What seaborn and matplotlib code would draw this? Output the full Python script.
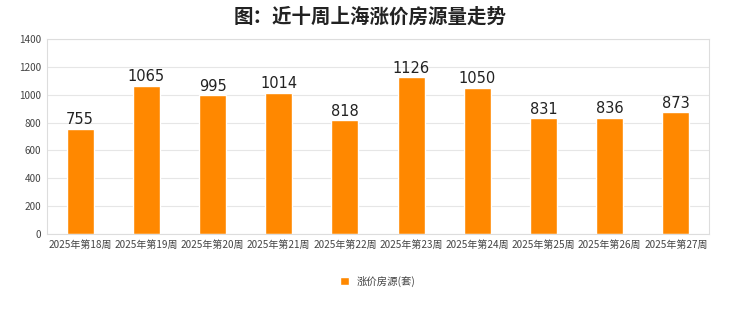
import matplotlib
matplotlib.use("Agg")
import matplotlib.pyplot as plt
import seaborn as sns
import pandas as pd

weeks = ["2025年第18周", "2025年第19周", "2025年第20周", "2025年第21周", "2025年第22周",
         "2025年第23周", "2025年第24周", "2025年第25周", "2025年第26周", "2025年第27周"]
values = [755, 1065, 995, 1014, 818, 1126, 1050, 831, 836, 873]
series_name = "涨价房源(套)"
title = "图：近十周上海涨价房源量走势"

sns.set_theme(style="white")
plt.rcParams['font.family'] = ['Noto Sans CJK SC', 'DejaVu Sans']

df = pd.DataFrame({"week": weeks, "value": values, "series": series_name})

fig = plt.figure(figsize=(7.4, 3.12), dpi=100)
ax = fig.add_axes([47/740, 1 - 234/312, (709-47)/740, (234-39)/312])

sns.barplot(data=df, x="week", y="value", hue="series", palette=["#FF8800"],
            width=0.41, ax=ax, saturation=1, legend=True)

ax.set_ylim(0, 1400)
ax.set_yticks(range(0, 1401, 200))
ax.set_xlim(-0.5, len(weeks) - 0.5)
ax.grid(axis="y", color="#e6e6e6", linewidth=0.8)
ax.set_axisbelow(True)
for s in ax.spines.values():
    s.set_color("#dddddd")
    s.set_linewidth(0.8)
ax.tick_params(axis="both", length=0, labelsize=7.2, colors="#444444", pad=4)
ax.set_xlabel("")
ax.set_ylabel("")

for c in ax.containers:
    ax.bar_label(c, labels=[str(v) for v in values], padding=1, fontsize=10.5, color="#222222",
                 family=['DejaVu Sans'])

fig.text(0.5, 1 - 17/312, title, ha="center", va="center", fontsize=14, fontweight="bold", color="#222222")

leg = ax.legend(loc="center", bbox_to_anchor=(0.5, (234 - 281) / (234 - 39)), ncol=1, frameon=False,
                fontsize=7.5, handlelength=0.8, handleheight=0.8, handletextpad=0.8)
for t in leg.get_texts():
    t.set_color("#444444")

fig.savefig("out.png", dpi=100, facecolor="white")
